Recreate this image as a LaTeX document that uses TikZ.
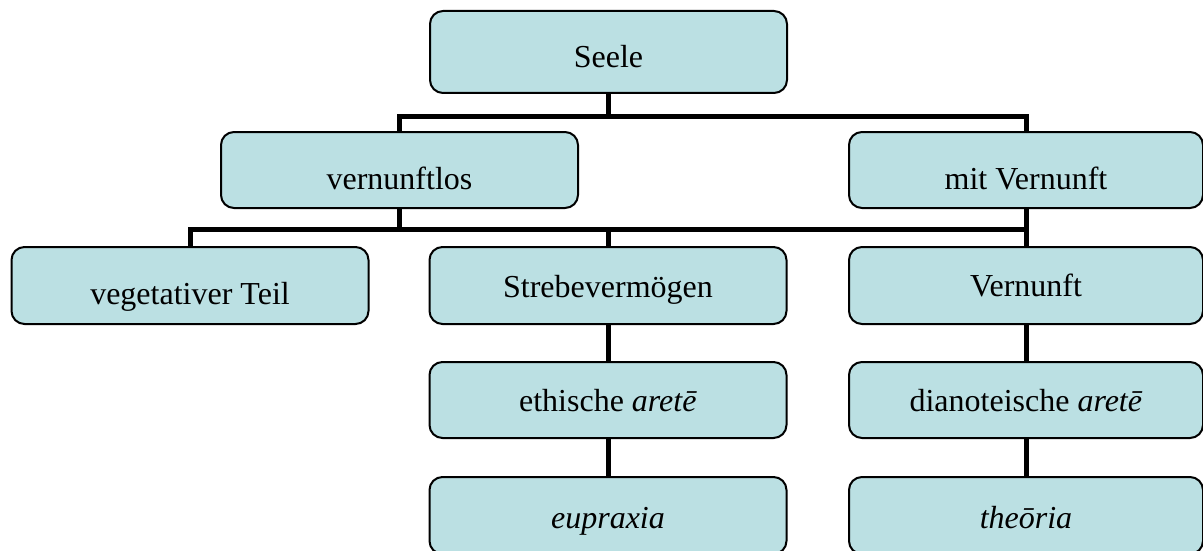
\documentclass[tikz,border=0pt]{standalone}
\usepackage{fontspec}
\setmainfont{Liberation Serif}
\usetikzlibrary{backgrounds}
\definecolor{boxfill}{RGB}{187,224,227}
\begin{document}
\begin{tikzpicture}[x=1pt,y=-1pt,
  box/.style={rectangle, draw=black, line width=2pt, fill=boxfill, rounded corners=13pt,
              minimum width=357pt, inner sep=0pt},
  boxc/.style={box, minimum width=354pt},
  txt/.style={anchor=base, inner sep=0pt, font=\fontsize{32}{38}\selectfont},
  conn/.style={line width=5pt, draw=black}]
\useasboundingbox (0,0) rectangle (1203,551);

% boxes
\node[box,  minimum height=82pt] (seele) at (608.5,52) {};
\node[box,  minimum height=76pt] (vl)    at (399.5,170) {};
\node[boxc, minimum height=76pt] (mv)    at (1026,170) {};
\node[box,  minimum height=77pt] (veg)   at (190,285.5) {};
\node[box,  minimum height=77pt] (stv)   at (608,285.5) {};
\node[boxc, minimum height=77pt] (vern)  at (1026,285.5) {};
\node[box,  minimum height=76pt] (eth)   at (608,400) {};
\node[boxc, minimum height=76pt] (dia)   at (1026,400) {};
\node[box,  minimum height=77pt] (eup)   at (608,515.5) {};
\node[boxc, minimum height=77pt] (theo)  at (1026,515.5) {};

% texts
\node[txt] (tseele) at (608.5,68) {Seele};
\node[txt] (tvl)    at (399.5,189) {vernunftlos};
\node[txt] (tmv)    at (1026,189) {mit Vernunft};
\node[txt] (tveg)   at (190,304) {vegetativer Teil};
\node[txt] (tstv)   at (608,297) {Strebevermögen};
\node[txt] (tvern)  at (1026,296) {Vernunft};
\node[txt] (teth)   at (608,411) {ethische \textit{aretē}};
\node[txt] (tdia)   at (1026,411) {dianoteische \textit{aretē}};
\node[txt] (teup)   at (608,528) {\textit{eupraxia}};
\node[txt] (ttheo)  at (1026,528) {\textit{theōria}};

% connectors
\begin{pgfonlayer}{background}
\draw[conn] (seele.south) -- ++(0,22) -| (vl.north);
\draw[conn] (seele.south) -- ++(0,22) -| (mv.north);
\draw[conn] (vl.south) -- ++(0,20) -| (veg.north);
\draw[conn] (vl.south) -- ++(0,20) -| (stv.north);
\draw[conn] (vl.south) -- ++(0,20) -| (vern.north);
\draw[conn] (mv.south) -- (vern.north);
\draw[conn] (stv.south) -- (eth.north);
\draw[conn] (eth.south) -- (eup.north);
\draw[conn] (vern.south) -- (dia.north);
\draw[conn] (dia.south) -- (theo.north);
\end{pgfonlayer}
\end{tikzpicture}
\end{document}
